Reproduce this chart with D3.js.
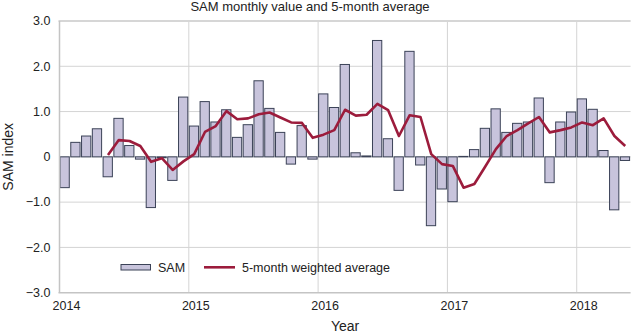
<!DOCTYPE html>
<html>
<head>
<meta charset="utf-8">
<script src="https://cdn.jsdelivr.net/npm/d3@7"></script>
<style>
  body { margin: 0; background: #fff; }
  text { font-family: "Liberation Sans", Arial, sans-serif; fill: #222; }
</style>
</head>
<body>
<svg id="chart" width="631" height="333"></svg>
<script>
// monthly SAM index, Jan 2014 - May 2018
const years = [2014, 2015, 2016, 2017, 2018];
const samValues = [
  -0.68, 0.32, 0.46, 0.62, -0.44, 0.85, 0.25, -0.05, -1.12, -0.02, -0.52, 1.32,
  0.68, 1.22, 0.77, 1.04, 0.43, 0.71, 1.68, 1.07, 0.54, -0.16, 0.69, -0.05,
  1.39, 1.09, 2.04, 0.09, 0.02, 2.57, 0.40, -0.74, 2.33, -0.18, -1.52, -0.71,
  -0.99, 0.01, 0.16, 0.63, 1.06, 0.54, 0.74, 0.77, 1.30, -0.57, 0.77, 0.99,
  1.28, 1.05, 0.14, -1.17, -0.08
];
// 5-month weighted average (starts May 2014)
const avgValues = [
  null, null, null, null, 0.04, 0.37, 0.35, 0.24, -0.11, -0.03, -0.29, -0.10,
  0.06, 0.55, 0.68, 1.01, 0.83, 0.85, 0.94, 0.98, 0.87, 0.76, 0.75, 0.42,
  0.49, 0.59, 1.04, 0.91, 0.93, 1.17, 1.03, 0.46, 0.92, 0.88, 0.06, -0.16,
  -0.20, -0.68, -0.60, -0.22, 0.17, 0.46, 0.59, 0.74, 0.88, 0.54, 0.59, 0.65,
  0.76, 0.70, 0.85, 0.46, 0.24
];
const yTicks = [3, 2, 1, 0, -1, -2, -3];

const svg = d3.select("#chart");
const mLeft = 59.5, mRight = 630.6, mTop = 21, mBottom = 292.7;
const nMonths = samValues.length;

let x = d3.scaleLinear().domain([0, nMonths]).range([mLeft, mRight]);
let y = d3.scaleLinear().domain([-3, 3]).range([mBottom, mTop]);

let fmtY = (d) => d == 0 ? "0" : d3.format(".1f")(d).replace("-", "\u2212");

// grid
svg.append("g")
   .selectAll("line")
   .data(yTicks.filter((d) => d != -3 && d != 3))
   .enter().append("line")
   .attr("x1", mLeft).attr("x2", mRight)
   .attr("y1", (d) => y(d)).attr("y2", (d) => y(d))
   .attr("stroke", "#d4d4d4").attr("stroke-width", 1);
svg.append("g")
   .selectAll("line")
   .data(years.slice(1))
   .enter().append("line")
   .attr("x1", (d, i) => x((i + 1) * 12)).attr("x2", (d, i) => x((i + 1) * 12))
   .attr("y1", mTop).attr("y2", mBottom)
   .attr("stroke", "#d4d4d4").attr("stroke-width", 1);

// top frame line
svg.append("line")
   .attr("x1", mLeft - 1).attr("x2", mRight)
   .attr("y1", y(3)).attr("y2", y(3))
   .attr("stroke", "#d6d6d6").attr("stroke-width", 2);

// bars
let barW = (x(1) - x(0)) - 1;
svg.append("g")
   .selectAll("rect")
   .data(samValues).enter()
   .append("rect")
   .attr("x", (d, i) => x(i) + 0.5)
   .attr("y", (d) => y(Math.max(0, d)))
   .attr("width", barW - 0.5)
   .attr("height", (d) => Math.abs(y(d) - y(0)))
   .attr("fill", "#c8c4dc")
   .attr("stroke", "#3b4257")
   .attr("stroke-width", 1);

// average line
let line = d3.line()
   .defined((d) => d != null)
   .x((d, i) => x(i + 0.5))
   .y((d) => y(d));
svg.append("path")
   .datum(avgValues)
   .attr("d", line)
   .attr("fill", "none")
   .attr("stroke", "#9c1c3c")
   .attr("stroke-width", 2.6)
   .attr("stroke-linejoin", "round");

// axes
svg.append("line")
   .attr("x1", mLeft).attr("x2", mLeft)
   .attr("y1", mTop).attr("y2", mBottom)
   .attr("stroke", "#c4c4c4").attr("stroke-width", 1.5);
svg.append("line")
   .attr("x1", mLeft - 1).attr("x2", mRight)
   .attr("y1", mBottom).attr("y2", mBottom)
   .attr("stroke", "#c4c4c4").attr("stroke-width", 1.5);

svg.append("g")
   .selectAll("text")
   .data(yTicks).enter()
   .append("text")
   .attr("x", mLeft - 9)
   .attr("y", (d) => y(d) + 4.3)
   .attr("text-anchor", "end")
   .attr("font-size", 12.5)
   .text(fmtY);

svg.append("g")
   .selectAll("text")
   .data(years).enter()
   .append("text")
   .attr("x", (d, i) => x(i * 12) + 7)
   .attr("y", 310)
   .attr("text-anchor", "middle")
   .attr("font-size", 12.5)
   .text((d) => d);

// titles
svg.append("text")
   .attr("x", 310).attr("y", 11)
   .attr("text-anchor", "middle")
   .attr("font-size", 13)
   .text("SAM monthly value and 5-month average");
svg.append("text")
   .attr("x", (mLeft + mRight) / 2).attr("y", 331)
   .attr("text-anchor", "middle")
   .attr("font-size", 14)
   .text("Year");
svg.append("text")
   .attr("transform", "translate(12.5," + y(0) + ") rotate(-90)")
   .attr("text-anchor", "middle")
   .attr("font-size", 14)
   .text("SAM index");

// legend
let lg = svg.append("g");
lg.append("rect")
  .attr("x", 121).attr("y", 264.5).attr("width", 29.5).attr("height", 5.5)
  .attr("fill", "#c8c4dc").attr("stroke", "#3b4257").attr("stroke-width", 1);
lg.append("text")
  .attr("x", 158).attr("y", 272)
  .attr("font-size", 12.5)
  .text("SAM");
lg.append("line")
  .attr("x1", 204).attr("x2", 235).attr("y1", 267.3).attr("y2", 267.3)
  .attr("stroke", "#9c1c3c").attr("stroke-width", 2.6);
lg.append("text")
  .attr("x", 242).attr("y", 272)
  .attr("font-size", 12.5)
  .text("5-month weighted average");
</script>
</body>
</html>
